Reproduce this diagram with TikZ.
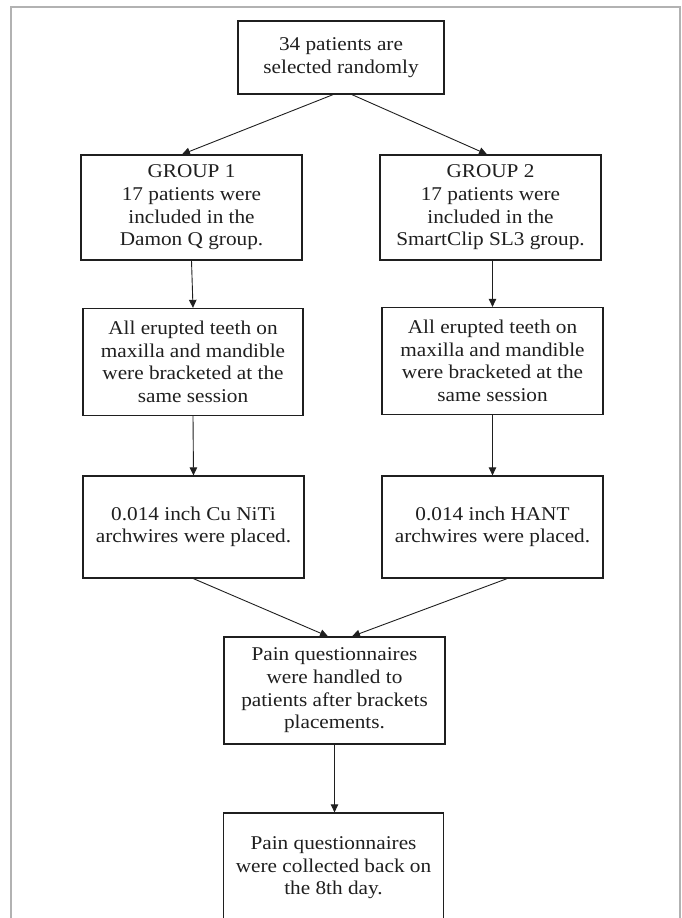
\documentclass[tikz,border=0pt]{standalone}
\usepackage{fontspec}
\setmainfont{Liberation Serif}[FakeStretch=1.09]
\usetikzlibrary{arrows.meta}
\begin{document}
\begin{tikzpicture}[x=1pt,y=-1pt,
  box/.style={draw=black!88,line width=1.3pt,align=center,inner sep=0pt,
    font=\fontsize{19.5}{22.6}\selectfont,text=black!88},
  arr/.style={draw=black!88,line width=0.9pt,-{Triangle[length=8pt,width=7.5pt]}}]
\useasboundingbox (0,0) rectangle (681,918);
\clip (0,0) rectangle (681,918);
\draw[black!30,line width=1.3pt] (11,7) rectangle (680,940);
\node[box,minimum width=206pt,minimum height=73pt] (top) at (341,57.5) {34 patients are\\selected randomly};
\node[box,minimum width=221pt,minimum height=105pt] (g1) at (191.5,207.5) {GROUP 1\\17 patients were\\included in the\\Damon Q group.};
\node[box,minimum width=221pt,minimum height=105pt] (g2) at (490.5,207.5) {GROUP 2\\17 patients were\\included in the\\SmartClip SL3 group.};
\node[box,minimum width=220pt,minimum height=107pt] (t1) at (193,362) {All erupted teeth on\\maxilla and mandible\\were bracketed at the\\same session};
\node[box,minimum width=221pt,minimum height=107pt] (t2) at (492.5,361) {All erupted teeth on\\maxilla and mandible\\were bracketed at the\\same session};
\node[box,minimum width=221pt,minimum height=102pt] (a1) at (193.5,527) {0.014 inch Cu NiTi\\archwires were placed.};
\node[box,minimum width=221pt,minimum height=102pt] (a2) at (492.5,527) {0.014 inch HANT\\archwires were placed.};
\node[box,minimum width=221pt,minimum height=107pt] (p1) at (334.5,690.5) {Pain questionnaires\\were handled to\\patients after brackets\\placements.};
\node[box,minimum width=220pt,minimum height=110pt] (p2) at (333.5,868) {Pain questionnaires\\were collected back on\\the 8th day.};
\draw[arr] ([xshift=-8pt]top.south) -- ([xshift=-9.5pt]g1.north);
\draw[arr] ([xshift=11pt]top.south) -- ([xshift=-3.5pt]g2.north);
\draw[arr] (g1.south) -- (t1.north);
\draw[arr] ([xshift=2pt]g2.south) -- ([xshift=0pt]t2.north);
\draw[arr] (t1.south) -- (a1.north);
\draw[arr] (t2.south) -- (a2.north);
\draw[arr] (a1.south) -- ([xshift=-6.5pt]p1.north);
\draw[arr] ([xshift=14.5pt]a2.south) -- ([xshift=17.5pt]p1.north);
\draw[arr] (p1.south) -- ([xshift=1pt]p2.north);
\end{tikzpicture}
\end{document}
